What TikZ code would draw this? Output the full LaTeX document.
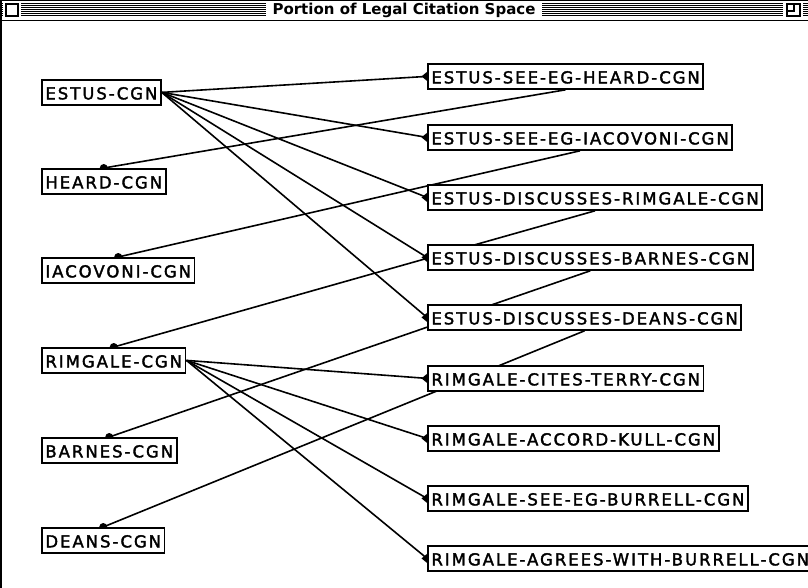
\documentclass[tikz,border=0pt]{standalone}
\usepackage{fontspec}
\setmainfont{DejaVu Sans}
\newfontfamily\boxfam[LetterSpace=12,FakeBold=2]{DejaVu Sans}
\newcommand\boxfont{\boxfam\fontsize{16.5}{16.5}\selectfont}
\newcommand\barfont{\fontsize{15}{15}\selectfont\bfseries}
\usetikzlibrary{backgrounds}

\tikzset{
  citebox/.style={draw, line width=1.8pt, fill=white, anchor=north west,
    inner xsep=3.5pt, inner ysep=0pt, minimum height=25pt,
    text height=14pt, text depth=0pt, font=\boxfont},
  link/.style={line width=1.6pt},
  stripe/.style={line width=1pt},
}

% wedge sitting against a box's left side where a link enters it
\newcommand\inport[1]{\fill (#1.west) ++(0,-4.5) -- ++(0,9) -- ++(-5.5,-4.5) -- cycle;}
% dot marking where a link enters a box from above
\newcommand\topport[1]{\fill (#1.north) circle (4pt);}

\begin{document}
\begin{tikzpicture}[x=1pt, y=-1pt]
\useasboundingbox (0,0) rectangle (808,588);

% ---- window title bar ----
\foreach \yy in {4,6,8,10,12,14,16} {
  \draw[stripe] (1,\yy) -- (808,\yy);
}
\fill[white] (3,2) rectangle (21,19);
\draw[line width=1.2pt] (6,4) rectangle (18,16);
\node[font=\barfont, fill=white, inner xsep=7pt, inner ysep=3pt] (title) at (404,10.5)
  {Portion of Legal Citation Space};
\fill[white] (783,2) rectangle (803,19);
\draw[line width=1.2pt] (787,4) rectangle (800,16);
\draw[line width=1.2pt] (787,4) rectangle (794,11);
\draw[line width=1.5pt] (0,0.75) -- (808,0.75);
\draw[line width=1.5pt] (0,20.5) -- (808,20.5);
\draw[line width=1.5pt] (0.75,0) -- (0.75,588);

% ---- cases (left column) ----
\node[citebox] (estus)    at (41,79)  {ESTUS-CGN};
\node[citebox] (heard)    at (41,168) {HEARD-CGN};
\node[citebox] (iacovoni) at (41,257) {IACOVONI-CGN};
\node[citebox] (rimgale)  at (41,347) {RIMGALE-CGN};
\node[citebox] (barnes)   at (41,437) {BARNES-CGN};
\node[citebox] (deans)    at (41,527) {DEANS-CGN};

% ---- citations (right column) ----
\node[citebox] (eheard)   at (427,63)  {ESTUS-SEE-EG-HEARD-CGN};
\node[citebox] (eiacov)   at (427,124) {ESTUS-SEE-EG-IACOVONI-CGN};
\node[citebox] (erimg)    at (427,184) {ESTUS-DISCUSSES-RIMGALE-CGN};
\node[citebox] (ebarnes)  at (427,244) {ESTUS-DISCUSSES-BARNES-CGN};
\node[citebox] (edeans)   at (427,304) {ESTUS-DISCUSSES-DEANS-CGN};
\node[citebox] (rterry)   at (427,365) {RIMGALE-CITES-TERRY-CGN};
\node[citebox] (rkull)    at (427,425) {RIMGALE-ACCORD-KULL-CGN};
\node[citebox] (rseeburr) at (427,485) {RIMGALE-SEE-EG-BURRELL-CGN};
\node[citebox] (ragree)   at (427,545) {RIMGALE-AGREES-WITH-BURRELL-CGN};

\begin{scope}[on background layer]
  % citing case -> citation
  \foreach \c in {eheard,eiacov,erimg,ebarnes,edeans} {
    \draw[link] (estus.east) -- (\c.west);
    \inport{\c}
  }
  \foreach \c in {rterry,rkull,rseeburr,ragree} {
    \draw[link] (rimgale.east) -- (\c.west);
    \inport{\c}
  }
  % citation -> cited case
  \foreach \c/\d in {eheard/heard,eiacov/iacovoni,erimg/rimgale,ebarnes/barnes,edeans/deans} {
    \draw[link] (\c.south) -- (\d.north);
    \topport{\d}
  }
\end{scope}
\end{tikzpicture}
\end{document}
